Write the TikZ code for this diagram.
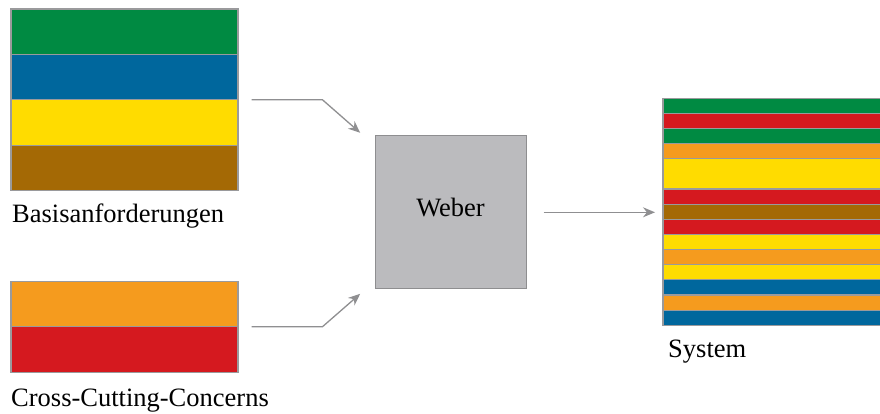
\documentclass[tikz,border=0pt]{standalone}
\usepackage{fontspec}
\setmainfont{Liberation Serif}
\usetikzlibrary{calc,arrows.meta}

\definecolor{cgreen}{HTML}{008A42}
\definecolor{cblue}{HTML}{00679D}
\definecolor{cyellow}{HTML}{FFDC00}
\definecolor{cbrown}{HTML}{A46905}
\definecolor{corange}{HTML}{F59B1E}
\definecolor{cred}{HTML}{D5191F}
\definecolor{edgegray}{HTML}{9A9A9C}
\definecolor{boxgray}{HTML}{BBBBBE}
\definecolor{boxedge}{HTML}{8E8E90}
\definecolor{arrgray}{HTML}{8F8F91}

\tikzset{
  stripe/.style={draw=edgegray, line width=1.2pt},
  area/.style={inner sep=0pt, outer sep=0pt, draw=none},
  lbl/.style={inner sep=0pt, anchor=base west, font=\fontsize{26.5}{30}\selectfont},
  weberbox/.style={draw=boxedge, fill=boxgray, line width=1pt, minimum width=151pt,
    minimum height=152pt, inner sep=0pt, font=\fontsize{26.5}{30}\selectfont,
    text height=18pt, text depth=8.5pt},
  flow/.style={draw=arrgray, line width=1.3pt, -{Stealth[length=12pt,width=10pt]}}
}

\begin{document}
\begin{tikzpicture}[x=1pt,y=-1pt]
  \useasboundingbox (0,0) rectangle (880,414);
  \clip (0,0) rectangle (880,414);

  % base requirements: four stripes
  \foreach \c [count=\i from 0] in {cgreen,cblue,cyellow,cbrown}
    \filldraw[stripe, fill=\c] (11,{9+\i*45.4}) rectangle (238,{9+(\i+1)*45.4});
  \node[area, minimum width=227pt, minimum height=181.6pt] (basis) at (124.5,99.8) {};
  \node[lbl] (basislbl) at (12,222.7) {Basisanforderungen};

  % cross-cutting concerns: two stripes
  \foreach \c [count=\i from 0] in {corange,cred}
    \filldraw[stripe, fill=\c] (11,{281.3+\i*45.4}) rectangle (238,{281.3+(\i+1)*45.4});
  \node[area, minimum width=227pt, minimum height=90.8pt] (ccc) at (124.5,326.7) {};
  \node[lbl] (ccclbl) at (11,406.7) {Cross-Cutting-Concerns};

  % weaver
  \node[weberbox] (weber) at (450.5,212) {Weber};

  % woven system: stripes of one or two units
  \def\u{15.13}
  \foreach \c/\a/\b in {cgreen/0/1,cred/1/2,cgreen/2/3,corange/3/4,cyellow/4/6,
                        cred/6/7,cbrown/7/8,cred/8/9,cyellow/9/10,corange/10/11,
                        cyellow/11/12,cblue/12/13,corange/13/14,cblue/14/15}
    \filldraw[stripe, fill=\c] (663,{98.3+\a*\u}) rectangle (905,{98.3+\b*\u});
  \node[area, minimum width=242pt, minimum height=226.95pt] (system) at (784,211.8) {};
  \node[lbl] (systemlbl) at (668,357.3) {System};

  % connectors
  \draw[flow] ($(basis.east)+(13.5,0)$) -- ++(71,0) -- ($(weber.north west)+(-14.3,-2.7)$);
  \draw[flow] ($(ccc.east)+(13.5,0)$) -- ++(71,0) -- ($(weber.south west)+(-14.3,5.3)$);
  \draw[flow] ($(weber.east)+(17,0.3)$) -- ($(system.west)+(-8,0.5)$);
\end{tikzpicture}
\end{document}
